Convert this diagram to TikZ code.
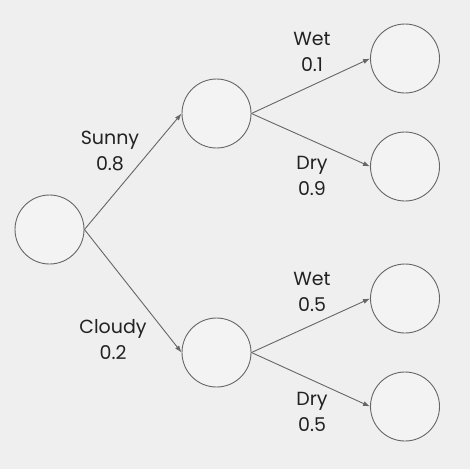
\documentclass[tikz,border=0pt]{standalone}
\usepackage{fontspec}
\setmainfont{Poppins}
\usetikzlibrary{arrows.meta,positioning}
\definecolor{bggray}{HTML}{EFEFEF}
\definecolor{nodefill}{HTML}{F3F3F3}
\definecolor{edgegray}{HTML}{666666}
\definecolor{txtgray}{HTML}{222222}
\tikzset{%
	state/.style  = {draw=edgegray, fill=nodefill, circle, minimum size=69pt, inner sep=0pt, line width=0.9pt},
	branch/.style = {draw=edgegray, line width=0.9pt, -{Latex[length=7pt,width=5pt]}},
	prob/.style   = {align=center, text=txtgray, font=\fontsize{19}{26}\selectfont},
}

\begin{document}
\begin{tikzpicture}[x=1pt,y=-1pt]
		\fill[bggray] (0,0) rectangle (470,469);
		\useasboundingbox (0,0) rectangle (470,469);
		
		\node[state] (root)    at (49.5,229.5) {};
		\node[state] (sunny)   at (216.5,113.5) {};
		\node[state] (cloudy)  at (216.5,352.5) {};
		\node[state] (sunWet)  at (405,58.5) {};
		\node[state] (sunDry)  at (405,166.5) {};
		\node[state] (cldWet)  at (405,298.5) {};
		\node[state] (cldDry)  at (405,406.5) {};
		
		\draw[branch] (root.east) -- (sunny.west);
		\draw[branch] (root.east) -- (cloudy.west);
		\draw[branch] (sunny.east) -- (sunWet.west);
		\draw[branch] (sunny.east) -- (sunDry.west);
		\draw[branch] (cloudy.east) -- (cldWet.west);
		\draw[branch] (cloudy.east) -- (cldDry.west);
		
		\node[prob] (sunnyLbl)  at (110,150.5) {Sunny\\0.8};
		\node[prob] (cloudyLbl) at (113,340) {Cloudy\\0.2};
		\node[prob] (sunWetLbl) at (312,51.5) {Wet\\0.1};
		\node[prob] (sunDryLbl) at (312,175.5) {Dry\\0.9};
		\node[prob] (cldWetLbl) at (312,292) {Wet\\0.5};
		\node[prob] (cldDryLbl) at (312,411.5) {Dry\\0.5};
		
\end{tikzpicture}
\end{document}
